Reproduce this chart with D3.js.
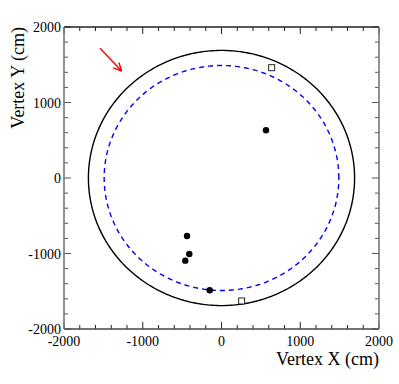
<!DOCTYPE html>
<html>
<head>
<meta charset="utf-8">
<script src="https://cdn.jsdelivr.net/npm/d3@7"></script>
<style>
  body { margin: 0; background: #fff; }
  text { font-family: "Liberation Serif", "DejaVu Serif", serif; }
</style>
</head>
<body>
<svg id="chart" width="399" height="384"></svg>
<script>
// vertex data (cm)
const filledX = [565, -438, -409, -460, -150];
const filledY = [632, -768, -1007, -1095, -1487];
const openX = [637, 256];
const openY = [1461, -1629];
const solidRadius = 1690;
const dashedRadius = 1490;
const arrowFrom = [-1543, 1718];
const arrowTo = [-1268, 1417];
const majorTicks = [-2000, -1000, 0, 1000, 2000];

const pL = 64, pR = 379, pT = 27, pB = 329;
const svg = d3.select('#chart');

const x = d3.scaleLinear().domain([-2000, 2000]).range([pL, pR]);
const y = d3.scaleLinear().domain([-2000, 2000]).range([pB, pT]);
const minor = d3.range(-2000, 2001, 200);

// circles
const circle = (r) => d3.range(0, 361, 1).map(a => [r * Math.cos(a * Math.PI / 180), r * Math.sin(a * Math.PI / 180)]);
const line = d3.line().x(d => x(d[0])).y(d => y(d[1]));

svg.append('path').attr('d', line(circle(solidRadius)))
  .attr('fill', 'none').attr('stroke', '#000').attr('stroke-width', 1.4);
svg.append('path').attr('d', line(circle(dashedRadius)))
  .attr('fill', 'none').attr('stroke', '#0000ff').attr('stroke-width', 1.4)
  .attr('stroke-dasharray', '5,4');

// points
filledX.forEach((v, i) => {
  svg.append('circle').attr('cx', x(v)).attr('cy', y(filledY[i])).attr('r', 3.2).attr('fill', '#000');
});
openX.forEach((v, i) => {
  svg.append('rect').attr('x', x(v) - 3).attr('y', y(openY[i]) - 3)
    .attr('width', 6).attr('height', 6).attr('fill', '#fff').attr('stroke', '#222').attr('stroke-width', 1);
});

// arrow
const ax0 = x(arrowFrom[0]), ay0 = y(arrowFrom[1]);
const ax1 = x(arrowTo[0]), ay1 = y(arrowTo[1]);
svg.append('line').attr('x1', ax0).attr('y1', ay0).attr('x2', ax1).attr('y2', ay1)
  .attr('stroke', '#ff0000').attr('stroke-width', 1.4);
const ang = Math.atan2(ay1 - ay0, ax1 - ax0);
[0.45, -0.45].forEach(d => {
  svg.append('line').attr('x1', ax1).attr('y1', ay1)
    .attr('x2', ax1 - 9 * Math.cos(ang + d)).attr('y2', ay1 - 9 * Math.sin(ang + d))
    .attr('stroke', '#ff0000').attr('stroke-width', 1.4);
});

// ticks on all sides, pointing inward
minor.forEach(v => {
  const len = majorTicks.includes(v) ? 7 : 4;
  svg.append('line').attr('x1', x(v)).attr('x2', x(v)).attr('y1', pB).attr('y2', pB - len).attr('stroke', '#222');
  svg.append('line').attr('x1', x(v)).attr('x2', x(v)).attr('y1', pT).attr('y2', pT + len).attr('stroke', '#222');
  svg.append('line').attr('y1', y(v)).attr('y2', y(v)).attr('x1', pL).attr('x2', pL + len).attr('stroke', '#555');
  svg.append('line').attr('y1', y(v)).attr('y2', y(v)).attr('x1', pR).attr('x2', pR - len).attr('stroke', '#555');
});

// frame
svg.append('line').attr('x1', pL).attr('x2', pR).attr('y1', pT).attr('y2', pT).attr('stroke', '#222').attr('stroke-width', 1.3);
svg.append('line').attr('x1', pL).attr('x2', pR).attr('y1', pB).attr('y2', pB).attr('stroke', '#444').attr('stroke-width', 1.5);
svg.append('line').attr('x1', pL).attr('x2', pL).attr('y1', pT).attr('y2', pB).attr('stroke', '#777').attr('stroke-width', 1.6);
svg.append('line').attr('x1', pR).attr('x2', pR).attr('y1', pT).attr('y2', pB).attr('stroke', '#777').attr('stroke-width', 1.6);

// tick labels
majorTicks.forEach(v => {
  svg.append('text').attr('x', x(v)).attr('y', pB + 17).attr('text-anchor', 'middle')
    .attr('font-size', 14).text(v);
  svg.append('text').attr('x', pL - 3).attr('y', y(v) + 5).attr('text-anchor', 'end')
    .attr('font-size', 14).text(v);
});

// axis titles
svg.append('text').attr('x', pR).attr('y', 365).attr('text-anchor', 'end')
  .attr('font-size', 18).text('Vertex X (cm)');
svg.append('text').attr('transform', `translate(24,${pT}) rotate(-90)`).attr('text-anchor', 'end')
  .attr('font-size', 18).text('Vertex Y (cm)');
</script>
</body>
</html>
